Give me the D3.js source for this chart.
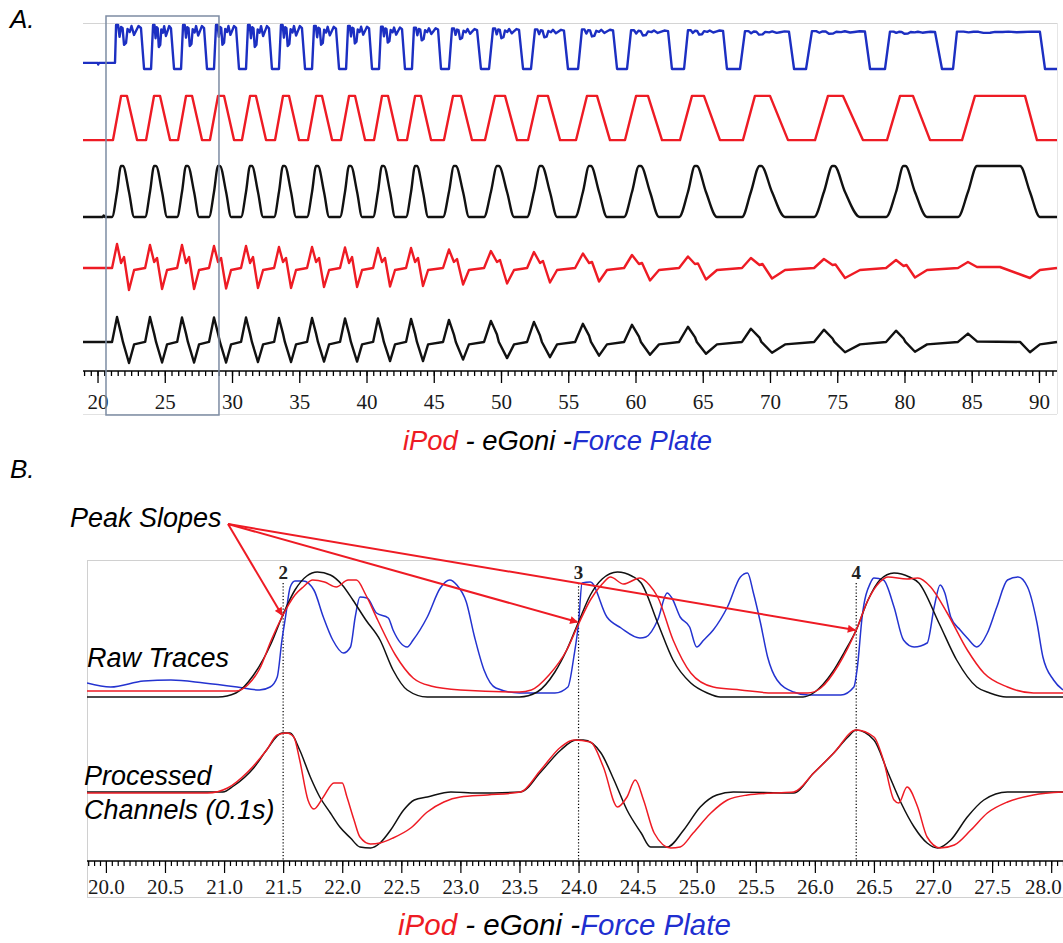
<!DOCTYPE html>
<html><head><meta charset="utf-8">
<script src="https://cdn.jsdelivr.net/npm/d3@7"></script>
<style>body{margin:0;background:#fff}svg{display:block}</style>
</head><body>
<svg id="c" width="1063" height="943"></svg>
<script>
// ================= DATA =================
// Panel A axis
const tickValuesA = [20,25,30,35,40,45,50,55,60,65,70,75,80,85,90];
const tickLabelsA = ["20","25","30","35","40","45","50","55","60","65","70","75","80","85","90"];
const domainA = [18.92, 91.34];
const zoomWindowA = [20.63, 29.03];

// Panel A, red top trace: [rise start, top start, top end, fall end] per cycle (s)
const red1A = [
 [21.15,21.75,22.19,22.94],[23.61,24.20,24.65,25.39],[25.99,26.58,27.03,27.77],[28.36,28.96,29.41,30.15],
 [30.74,31.34,31.78,32.53],[33.20,33.79,34.24,34.98],[35.65,36.25,36.69,37.44],[38.10,38.70,39.15,39.89],
 [40.56,41.15,41.60,42.34],[43.01,43.61,44.05,44.80],[45.76,46.43,47.03,47.84],[48.81,49.55,50.30,51.19],
 [52.01,52.75,53.49,54.39],[55.58,56.39,57.14,58.10],[59.22,60.04,60.93,61.97],[63.31,64.20,65.09,66.28],
 [67.99,68.88,70.00,71.34],[73.35,74.31,75.43,76.91],[78.70,79.67,80.63,81.90],[84.28,85.24,88.96,89.85]
];
// Panel A, black top trace: [start, half-up, peak start, peak end, half-down, end] per cycle (s)
const black1A = [
 [21.08,21.45,21.75,21.89,22.34,22.72],[23.54,23.90,24.21,24.35,24.80,25.17],[25.92,26.28,26.58,26.72,27.18,27.55],
 [28.29,28.66,28.96,29.10,29.56,29.93],[30.67,31.04,31.34,31.48,31.93,32.31],[33.13,33.49,33.79,33.93,34.39,34.76],
 [35.58,35.95,36.25,36.39,36.84,37.22],[38.03,38.40,38.70,38.84,39.30,39.67],[40.49,40.85,41.15,41.29,41.75,42.12],
 [42.94,43.31,43.61,43.75,44.20,44.58],[45.69,46.13,46.50,46.64,47.18,47.62],[48.74,49.25,49.70,49.84,50.45,50.97],
 [51.94,52.45,52.90,53.04,53.64,54.17],[55.51,56.09,56.55,56.69,57.29,57.88],[59.15,59.74,60.26,60.40,61.08,61.75],
 [63.24,63.90,64.42,64.56,65.24,66.06],[67.92,68.58,69.22,69.36,70.15,71.12],[73.28,74.01,74.65,74.79,75.58,76.69],
 [78.63,79.37,79.93,80.07,80.78,81.68],[83.98,84.72,85.39,88.59,89.33,90.07]
];
// Panel A processed channels: amplitudes per cycle (0-100 within each channel band)
const black2PeakA  = [96,96,95,95,95,94,94,93,93,92,90,88,86,82,80,76,72,70,68,62];
const black2CrossA = [62,62,62,62,62,62,62,62,62,62,60,60,58,58,56,55,54,52,52,46];
const black2DipA   = [2,3,3,3,4,4,5,5,6,6,9,12,14,17,19,21,23,24,25,24];
const red2PeakA    = [96,94,94,92,92,90,90,89,88,88,85,82,80,77,74,71,68,66,64,60];
const red2NotchA   = [58,60,58,60,58,60,60,58,60,60,60,60,58,58,56,56,54,54,52,50];
const red2BumpA    = [70,68,70,68,70,68,68,70,68,68,66,64,62,60,58,57,56,55,54,50];
const red2DipA     = [4,6,6,7,8,8,10,10,11,12,15,17,19,21,23,25,27,28,29,28];
// Panel A, blue (force plate): [fall start, bottom start, bottom end, rise end] per dip (s)
const blueDipA = [
 [23.23,23.46,23.98,24.13],[25.46,25.69,26.21,26.36],[27.92,28.14,28.66,28.81],[30.30,30.52,31.04,31.19],
 [32.75,32.97,33.49,33.64],[35.20,35.43,35.95,36.10],[37.73,37.96,38.48,38.63],[40.19,40.41,40.93,41.08],
 [42.64,42.86,43.38,43.53],[45.32,45.54,46.13,46.36],[48.22,48.51,49.11,49.41],[51.34,51.64,52.23,52.53],
 [54.68,54.98,55.73,56.02],[58.33,58.63,59.37,59.67],[62.42,62.71,63.61,63.90],[66.51,66.80,67.77,68.14],
 [71.41,71.79,72.68,73.12],[77.06,77.44,78.55,78.92],[82.27,82.79,83.61,83.90],[90.07,90.45,91.34,91.34]
];
const blueTopA   = [100,100,100,100,100,100,98,98,96,94,92,92,90,90,88,88,86,86,85,85];
const blueNotchA = [55,50,52,55,50,52,55,58,60,65,68,70,72,74,76,78,78,80,80,82];
const blueStartA = [[18.92,14],[20.02,14],[20.05,10],[20.1,14],[21.3,14]];
const blueFirstRiseA = 21.38;

// Panel B axis
const tickValuesB = [20,20.5,21,21.5,22,22.5,23,23.5,24,24.5,25,25.5,26,26.5,27,27.5,28];
const tickLabelsB = ["20.0","20.5","21.0","21.5","22.0","22.5","23.0","23.5","24.0","24.5","25.0","25.5","26.0","26.5","27.0","27.5","28.0"];
const domainB = [19.84, 28.1];
const markerTimesB = [21.5, 24.0, 26.35];
const markerLabelsB = ["2","3","4"];
const arrowTargetsB = [[21.49,82],[23.99,75],[26.34,67]];

// Panel B raw traces [time s, value]
const rawBlackB = [[19.84,0],[20.95,0],[21.1,4],[21.25,22],[21.4,54],[21.49,80],[21.6,107],[21.7,121],[21.79,125],[21.9,122],[22.0,112],[22.09,97],[22.2,77],[22.32,57],[22.43,27],[22.55,7],[22.72,0],[23.5,0],[23.65,5],[23.8,25],[23.9,47],[24.0,75],[24.1,102],[24.2,118],[24.33,125],[24.45,121],[24.53,114],[24.67,74],[24.8,37],[24.95,14],[25.09,4],[25.2,0],[25.9,0],[26.0,5],[26.15,25],[26.25,45],[26.35,67],[26.45,97],[26.55,117],[26.67,124],[26.8,120],[26.88,114],[27.05,74],[27.2,37],[27.37,10],[27.48,4],[27.62,0],[28.1,0]];
const rawRedB = [[19.84,6],[21.1,6],[21.2,12],[21.3,28],[21.4,57],[21.49,80],[21.6,102],[21.67,110],[21.75,117],[21.85,115],[21.95,110],[22.05,117],[22.12,117],[22.2,102],[22.3,77],[22.45,42],[22.6,19],[22.75,11],[23.0,7],[23.5,5],[23.6,7],[23.75,22],[23.9,47],[24.0,73],[24.1,97],[24.2,113],[24.27,120],[24.38,113],[24.52,119],[24.6,112],[24.67,100],[24.8,57],[24.95,24],[25.14,10],[25.37,7],[25.65,4],[25.94,4],[26.05,9],[26.2,32],[26.35,67],[26.45,97],[26.55,115],[26.62,120],[26.78,118],[26.87,119],[26.98,110],[27.12,84],[27.29,47],[27.43,24],[27.63,10],[27.85,4],[28.1,4]];
const rawBlueB = [[19.84,14],[20.04,10],[20.32,16],[20.55,17],[20.83,14],[21.11,10],[21.3,7],[21.39,10],[21.45,20],[21.49,57],[21.52,80],[21.56,110],[21.6,116],[21.67,116],[21.76,107],[21.84,80],[21.92,57],[22.01,44],[22.07,50],[22.11,80],[22.15,100],[22.21,99],[22.29,84],[22.39,79],[22.43,67],[22.55,50],[22.6,57],[22.72,80],[22.83,109],[22.91,117],[22.97,112],[23.05,95],[23.12,60],[23.2,27],[23.3,9],[23.5,4],[23.8,4],[23.91,10],[23.96,40],[24.0,74],[24.03,114],[24.1,115],[24.24,80],[24.36,69],[24.52,59],[24.57,60],[24.67,77],[24.75,104],[24.79,99],[24.86,80],[24.94,70],[25.0,50],[25.06,57],[25.14,67],[25.26,90],[25.37,120],[25.43,124],[25.48,104],[25.54,74],[25.6,40],[25.68,17],[25.82,5],[25.94,2],[26.22,2],[26.33,10],[26.36,30],[26.4,80],[26.47,114],[26.5,119],[26.58,117],[26.67,90],[26.75,57],[26.84,50],[26.95,54],[27.01,90],[27.06,112],[27.1,104],[27.15,80],[27.23,67],[27.29,59],[27.37,50],[27.46,64],[27.54,90],[27.63,117],[27.72,120],[27.8,110],[27.88,74],[27.93,40],[28.02,17],[28.1,7]];
// Panel B processed channels (0.1 s)
const procBlackB = [[19.84,56],[20.99,56],[21.08,62],[21.25,80],[21.36,98],[21.49,115],[21.56,115],[21.64,98],[21.73,71],[21.81,51],[21.9,35],[21.98,21],[22.07,10],[22.15,1],[22.24,0],[22.32,5],[22.41,18],[22.52,38],[22.61,48],[22.72,51],[22.92,56],[23.14,55],[23.51,56],[23.68,76],[23.85,98],[23.98,108],[24.04,108],[24.19,95],[24.3,68],[24.41,38],[24.53,15],[24.61,1],[24.75,1],[24.89,18],[25.03,41],[25.17,53],[25.31,56],[25.82,55],[25.99,75],[26.16,95],[26.28,111],[26.35,118],[26.5,108],[26.62,75],[26.73,45],[26.84,21],[26.95,5],[27.04,0],[27.15,8],[27.29,31],[27.43,48],[27.63,56],[28.1,56]];
const procRedB = [[19.84,55],[20.86,55],[21.03,60],[21.2,76],[21.36,98],[21.45,113],[21.53,115],[21.59,111],[21.64,88],[21.71,48],[21.76,39],[21.84,51],[21.93,65],[22.0,65],[22.04,51],[22.1,28],[22.15,11],[22.24,4],[22.32,5],[22.43,10],[22.58,20],[22.72,36],[22.86,46],[23.0,51],[23.23,53],[23.51,56],[23.68,78],[23.85,101],[23.96,108],[24.1,106],[24.21,81],[24.33,41],[24.41,51],[24.48,68],[24.55,48],[24.64,15],[24.78,0],[24.86,1],[24.97,15],[25.12,35],[25.26,48],[25.43,53],[25.65,55],[25.82,56],[25.99,75],[26.16,95],[26.35,118],[26.5,111],[26.58,88],[26.67,48],[26.71,45],[26.78,61],[26.87,41],[26.95,11],[27.06,0],[27.18,3],[27.32,18],[27.46,35],[27.63,46],[27.85,53],[28.1,56]];

// ================= DRAWING =================
const RED = "#ee1b24", BLUE_A = "#1c2fc2", BLUE_B = "#2433d0", BLACK = "#111";
const svg = d3.select("#c");
const defs = svg.append("defs");

// ---------- Panel A ----------
const xA = d3.scaleLinear().domain(domainA).range([83, 1057]);
const yBlueA  = d3.scaleLinear().domain([0,100]).range([69,25]);
const yRed1A  = d3.scaleLinear().domain([0,100]).range([141,95]);
const yBlk1A  = d3.scaleLinear().domain([0,100]).range([218,166]);
const yRed2A  = d3.scaleLinear().domain([0,100]).range([292,242]);
const yBlk2A  = d3.scaleLinear().domain([0,100]).range([364,315]);

// frame lines
svg.append("line").attr("x1",83).attr("x2",1057).attr("y1",23.5).attr("y2",23.5).attr("stroke","#d4d4d4");
svg.append("line").attr("x1",83).attr("x2",1057).attr("y1",414.5).attr("y2",414.5).attr("stroke","#e2e2e2");
svg.append("line").attr("x1",1057.5).attr("x2",1057.5).attr("y1",23).attr("y2",414).attr("stroke","#e6e6e6");

// build vertices
const blueV = blueStartA.slice();
const jitter = [[0,0],[0.08,0],[0.14,0.6],[0.2,0.1],[0.26,0.15],[0.32,1],[0.4,0.9],[0.46,0.2],[0.55,0.35],[0.62,0.05],[0.72,0.5],[0.8,0.3],[0.9,0.05],[1,0.15]];
let segStart = blueFirstRiseA;
blueDipA.forEach((d,i)=>{
  const top = blueTopA[i], notch = blueNotchA[i];
  jitter.forEach(([f,w])=>blueV.push([segStart+(d[0]-segStart)*f, top - w*(top-notch)]));
  blueV.push([d[1],0],[d[2],0]);
  segStart = d[3];
});
const red1V = [[domainA[0],2]];
red1A.forEach(c=>red1V.push([c[0],2],[c[1],98],[c[2],98],[c[3],2]));
red1V.push([domainA[1],2]);
const blk1V = [[domainA[0],2],[20.4,2],[20.45,5],[20.55,2]];
black1A.forEach(c=>blk1V.push([c[0],2],[c[1],50],[c[2],100],[c[3],100],[c[4],50],[c[5],2]));
blk1V.push([domainA[1],2]);
const blk2V = [[domainA[0],45]];
black1A.forEach((c,i)=>blk2V.push([c[0],45],[c[1],black2PeakA[i]],[c[2],black2CrossA[i]],[c[3],45],[c[4],black2DipA[i]],[c[5],40]));
blk2V.push([domainA[1],45]);
const red2V = [[domainA[0],48]];
black1A.forEach((c,i)=>red2V.push([c[0],48],[c[1],red2PeakA[i]],[c[2],red2NotchA[i]],[(red1A[i][1]+red1A[i][2])/2,red2BumpA[i]],[c[4],red2DipA[i]],[c[5],44]));
red2V.push([domainA[1],48]);

function drawA(v, y, color, curve){
  svg.append("path").datum(v)
    .attr("d", d3.line().x(d=>xA(d[0])).y(d=>y(d[1])).curve(curve||d3.curveLinear))
    .attr("fill","none").attr("stroke",color).attr("stroke-width",2.4).attr("stroke-linejoin","round");
}
drawA(blueV, yBlueA, BLUE_A);
drawA(red1V, yRed1A, RED);
drawA(blk1V, yBlk1A, BLACK, d3.curveMonotoneX);
drawA(red2V, yRed2A, RED);
drawA(blk2V, yBlk2A, BLACK);

// axis A
const axA = 371;
svg.append("line").attr("x1",83).attr("x2",1057).attr("y1",axA).attr("y2",axA).attr("stroke","#000").attr("stroke-width",1.5);
const gMinA = svg.append("g").attr("transform",`translate(0,${axA})`)
  .call(d3.axisBottom(xA).tickValues(d3.range(19,91.01,0.5)).tickSize(5).tickFormat(""));
const gMajA = svg.append("g").attr("transform",`translate(0,${axA})`)
  .call(d3.axisBottom(xA).tickValues(tickValuesA).tickSize(12).tickPadding(11).tickFormat((d,i)=>tickLabelsA[i]));
[gMinA,gMajA].forEach(g=>{g.select(".domain").remove(); g.selectAll(".tick line").attr("stroke","#000").attr("stroke-width",1.3);});
gMajA.selectAll(".tick text").attr("font-family","'Liberation Serif', serif").attr("font-size",21).attr("fill","#1a1a1a");

// zoom window rectangle
svg.append("rect").attr("x",xA(zoomWindowA[0])).attr("y",16)
  .attr("width",xA(zoomWindowA[1])-xA(zoomWindowA[0])).attr("height",399)
  .attr("fill","none").attr("stroke","#7d8ca3").attr("stroke-width",1.5);

// ---------- Panel B ----------
const xB = d3.scaleLinear().domain(domainB).range([87, 1063]);
const yRawB = d3.scaleLinear().domain([0,125]).range([697,572]);
const yProcB = d3.scaleLinear().domain([0,117]).range([848,731]);
const axB = 861;

defs.append("clipPath").attr("id","clipB").append("rect").attr("x",87).attr("y",560).attr("width",976).attr("height",301);
svg.append("line").attr("x1",87).attr("x2",1063).attr("y1",560.5).attr("y2",560.5).attr("stroke","#d0d0d0");
svg.append("line").attr("x1",87.5).attr("x2",87.5).attr("y1",560).attr("y2",897).attr("stroke","#d0d0d0");
svg.append("line").attr("x1",87).attr("x2",1063).attr("y1",897.5).attr("y2",897.5).attr("stroke","#d0d0d0");

// dotted markers
markerTimesB.forEach((t,i)=>{
  svg.append("line").attr("x1",xB(t)).attr("x2",xB(t)).attr("y1",583).attr("y2",axB)
    .attr("stroke","#000").attr("stroke-width",1.2).attr("stroke-dasharray","1.2,2");
  svg.append("text").attr("x",xB(t)).attr("y",579).attr("text-anchor","middle")
    .attr("font-family","'Liberation Serif', serif").attr("font-weight","bold").attr("font-size",19).attr("fill","#222")
    .text(markerLabelsB[i]);
});

const gB = svg.append("g").attr("clip-path","url(#clipB)");
function drawB(v, y, color){
  gB.append("path").datum(v)
    .attr("d", d3.line().x(d=>xB(d[0])).y(d=>y(d[1])).curve(d3.curveMonotoneX))
    .attr("fill","none").attr("stroke",color).attr("stroke-width",1.5).attr("stroke-linejoin","round");
}
drawB(rawBlueB, yRawB, BLUE_B);
drawB(rawBlackB, yRawB, BLACK);
drawB(rawRedB, yRawB, RED);
drawB(procBlackB, yProcB, BLACK);
drawB(procRedB, yProcB, RED);

// axis B
svg.append("line").attr("x1",87).attr("x2",1063).attr("y1",axB).attr("y2",axB).attr("stroke","#000").attr("stroke-width",1.3);
const gMinB = svg.append("g").attr("transform",`translate(0,${axB})`)
  .call(d3.axisBottom(xB).tickValues(d3.range(19.85,28.11,0.05)).tickSize(5).tickFormat(""));
const gMajB = svg.append("g").attr("transform",`translate(0,${axB})`)
  .call(d3.axisBottom(xB).tickValues(tickValuesB).tickSize(12).tickPadding(6).tickFormat((d,i)=>tickLabelsB[i]));
[gMinB,gMajB].forEach(g=>{g.select(".domain").remove(); g.selectAll(".tick line").attr("stroke","#000").attr("stroke-width",1.2);});
gMajB.selectAll(".tick text").attr("font-family","'Liberation Serif', serif").attr("font-size",21).attr("fill","#1a1a1a");
// keep the last, edge label fully inside the picture
gMajB.selectAll(".tick text").filter((d,i)=>i===tickLabelsB.length-1).attr("text-anchor","end").attr("dx",10);

// arrows
defs.append("marker").attr("id","ah").attr("viewBox","0 0 10 10").attr("refX",9).attr("refY",5)
  .attr("markerWidth",5).attr("markerHeight",4).attr("orient","auto")
  .append("path").attr("d","M0,0L10,5L0,10z").attr("fill",RED);
arrowTargetsB.forEach(p=>{
  svg.append("line").attr("x1",228).attr("y1",524).attr("x2",xB(p[0])).attr("y2",yRawB(p[1]))
    .attr("stroke",RED).attr("stroke-width",2).attr("marker-end","url(#ah)");
});

// ---------- Texts ----------
const SANS = "'Liberation Sans', Arial, sans-serif";
function txt(x,y,s,size,anchor){
  return svg.append("text").attr("x",x).attr("y",y).attr("font-family",SANS).attr("font-style","italic")
    .attr("font-size",size).attr("text-anchor",anchor||"start").attr("fill","#000").text(s);
}
txt(10,28,"A.",26);
txt(10,478,"B.",26);
txt(70,527,"Peak Slopes",27);
txt(87,667,"Raw Traces",27);
txt(84,785,"Processed",27);
txt(84,819,"Channels (0.1s)",27);

function legend(x,y,size){
  const t = svg.append("text").attr("x",x).attr("y",y).attr("font-family",SANS).attr("font-style","italic").attr("font-size",size);
  t.append("tspan").attr("fill",RED).text("iPod");
  t.append("tspan").attr("fill","#000").text(" - eGoni -");
  t.append("tspan").attr("fill","#1f2fd0").text("Force Plate");
}
legend(403,450,27.4);
legend(398,935,29.5);
</script>
</body></html>
